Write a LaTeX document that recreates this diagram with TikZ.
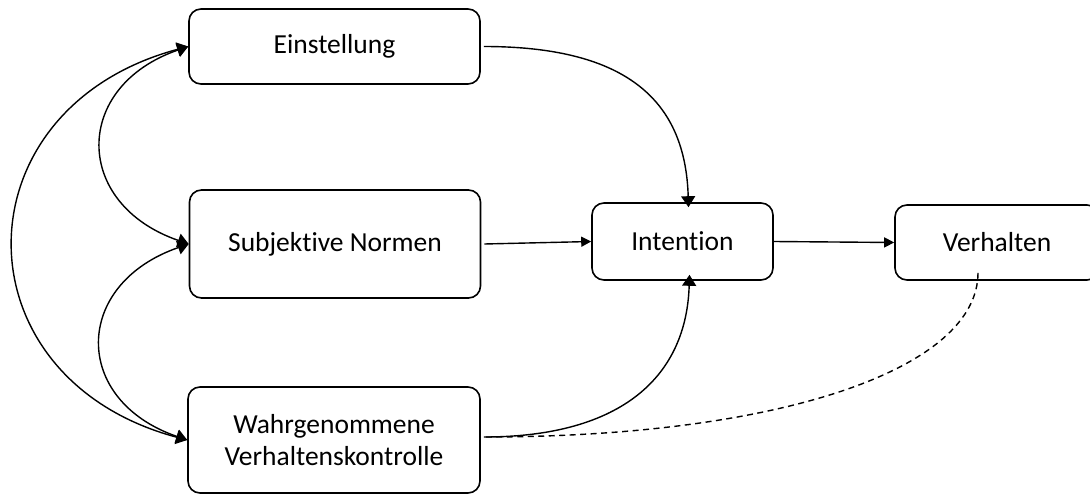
\documentclass[tikz,border=0pt]{standalone}
\usepackage{fontspec}
\setmainfont{Carlito}[Ligatures={NoCommon}]
\usetikzlibrary{arrows.meta}

\tikzset{
  box/.style={draw, line width=1.6pt, rounded corners=12pt, align=center,
    inner sep=0pt, font=\fontsize{27.5}{32.4}\selectfont},
  bigtip/.tip={Triangle[length=11pt,width=14pt]},
  smalltip/.tip={Triangle[length=10pt,width=10pt]},
  link/.style={line width=1.4pt, -smalltip},
  curvelink/.style={line width=1.4pt, -bigtip},
  both/.style={line width=1.4pt, bigtip-bigtip},
  weak/.style={line width=1.4pt, dash pattern=on 6pt off 4.5pt}
}

\begin{document}
\begin{tikzpicture}[x=1pt,y=-1pt]
  \useasboundingbox (0,0) rectangle (1090,495);
  \clip (0,0) rectangle (1090,495);

  % predictors
  \node[box, minimum width=291pt, minimum height=75pt]  (E) at (334.5,46.5) {Einstellung};
  \node[box, minimum width=291pt, minimum height=108pt] (S) at (335,244)   {Subjektive Normen};
  \node[box, minimum width=292pt, minimum height=106pt] (W) at (334,440)   {Wahrgenommene\\Verhaltenskontrolle};

  % intention and behaviour
  \node[box, minimum width=181pt, minimum height=77pt]  (I) at (682.5,241.5) {Intention};
  \node[box, minimum width=204pt, minimum height=75pt]  (V) at (997,242.5)   {Verhalten};

  % correlations between the predictors
  \draw[both] (E.west) .. controls +(-116,40) and +(-116,-40) .. (S.west);
  \draw[both] (S.west) .. controls +(-116,40) and +(-116,-40) .. (W.west);
  \draw[both] (E.west) .. controls +(-232,62) and +(-232,-62) .. (W.west);

  % paths into intention
  \coordinate (Itop) at ([xshift=6pt,yshift=-5pt]I.north);
  \coordinate (Ibot) at ([xshift=7pt,yshift=6pt]I.south);
  \draw[curvelink] ([xshift=3pt]E.east) .. controls +(145,0) and +(-3,-105) .. (Itop);
  \draw[link] ([xshift=3pt]S.east) -- (I.west);
  \draw[curvelink] ([xshift=3pt,yshift=3pt]W.east) .. controls +(140,0) and +(-3,100) .. (Ibot);

  % intention to behaviour
  \draw[link] (I.east) -- (V.west);

  % perceived control to behaviour
  \coordinate (Vbot) at ([xshift=-19pt,yshift=8pt]V.south);
  \draw[weak] (Vbot) .. controls +(0,95) and +(300,0) .. ([xshift=3pt,yshift=3pt]W.east);
\end{tikzpicture}
\end{document}
